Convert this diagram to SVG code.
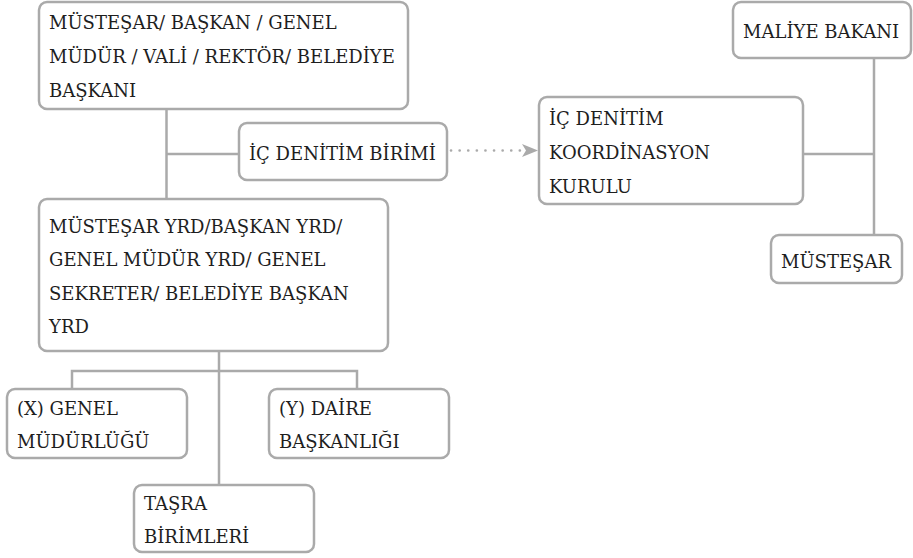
<svg xmlns="http://www.w3.org/2000/svg" width="913" height="558" viewBox="0 0 913 558">
<defs>
<style>
.box{fill:#fff;stroke:#aaaaaa;stroke-width:2.5}
.t{font-family:"DejaVu Serif","Liberation Serif",serif;font-size:18px;fill:#1e1e1e}
.c{fill:none;stroke:#aaaaaa;stroke-width:2.5}
.d{fill:none;stroke:#aaaaaa;stroke-width:2.6;stroke-dasharray:0.1 8.5;stroke-linecap:round}
.ah{fill:#aaaaaa}
</style>
</defs>
<rect width="913" height="558" fill="#fff"/>
<g id="connectors">
<path class="c" d="M166.5,109 V199 M166.5,154 H239"/>
<path class="c" d="M874,58 V235 M803,154 H874"/>
<path class="c" d="M219,351 V485 M72,389 V371 H357 V389"/>
<path class="d" d="M451,150.5 H524"/>
<path class="ah" d="M538,150.5 L522,144 L526,150.5 L522,157 Z"/>
</g>
<g id="n1"><rect class="box" x="39" y="2" width="369" height="107" rx="8"/>
<text class="t"><tspan x="49" y="29">MÜSTEŞAR/ BAŞKAN / GENEL</tspan><tspan x="49" y="63">MÜDÜR / VALİ / REKTÖR/ BELEDİYE</tspan><tspan x="49" y="97">BAŞKANI</tspan></text></g>
<g id="n2"><rect class="box" x="239" y="123" width="208" height="57" rx="8"/>
<text class="t" x="249" y="160">İÇ DENİTİM BİRİMİ</text></g>
<g id="n3"><rect class="box" x="539" y="97" width="264" height="107" rx="8"/>
<text class="t"><tspan x="549" y="125">İÇ DENİTİM</tspan><tspan x="549" y="159">KOORDİNASYON</tspan><tspan x="549" y="193">KURULU</tspan></text></g>
<g id="n4"><rect class="box" x="733" y="2" width="178" height="56" rx="8"/>
<text class="t" x="743" y="38">MALİYE BAKANI</text></g>
<g id="n5"><rect class="box" x="771" y="235" width="131" height="48" rx="8"/>
<text class="t" x="781" y="268">MÜSTEŞAR</text></g>
<g id="n6"><rect class="box" x="39" y="199" width="349" height="152" rx="8"/>
<text class="t"><tspan x="49" y="233">MÜSTEŞAR YRD/BAŞKAN YRD/</tspan><tspan x="49" y="266">GENEL MÜDÜR YRD/ GENEL</tspan><tspan x="49" y="300">SEKRETER/ BELEDİYE BAŞKAN</tspan><tspan x="49" y="333">YRD</tspan></text></g>
<g id="n7"><rect class="box" x="7" y="389" width="180" height="69" rx="8"/>
<text class="t"><tspan x="17" y="415">(X) GENEL</tspan><tspan x="17" y="448">MÜDÜRLÜĞÜ</tspan></text></g>
<g id="n8"><rect class="box" x="269" y="389" width="180" height="69" rx="8"/>
<text class="t"><tspan x="279" y="415">(Y) DAİRE</tspan><tspan x="279" y="448">BAŞKANLIĞI</tspan></text></g>
<g id="n9"><rect class="box" x="134" y="485" width="180" height="67" rx="8"/>
<text class="t"><tspan x="144" y="510">TAŞRA</tspan><tspan x="144" y="543">BİRİMLERİ</tspan></text></g>
</svg>
